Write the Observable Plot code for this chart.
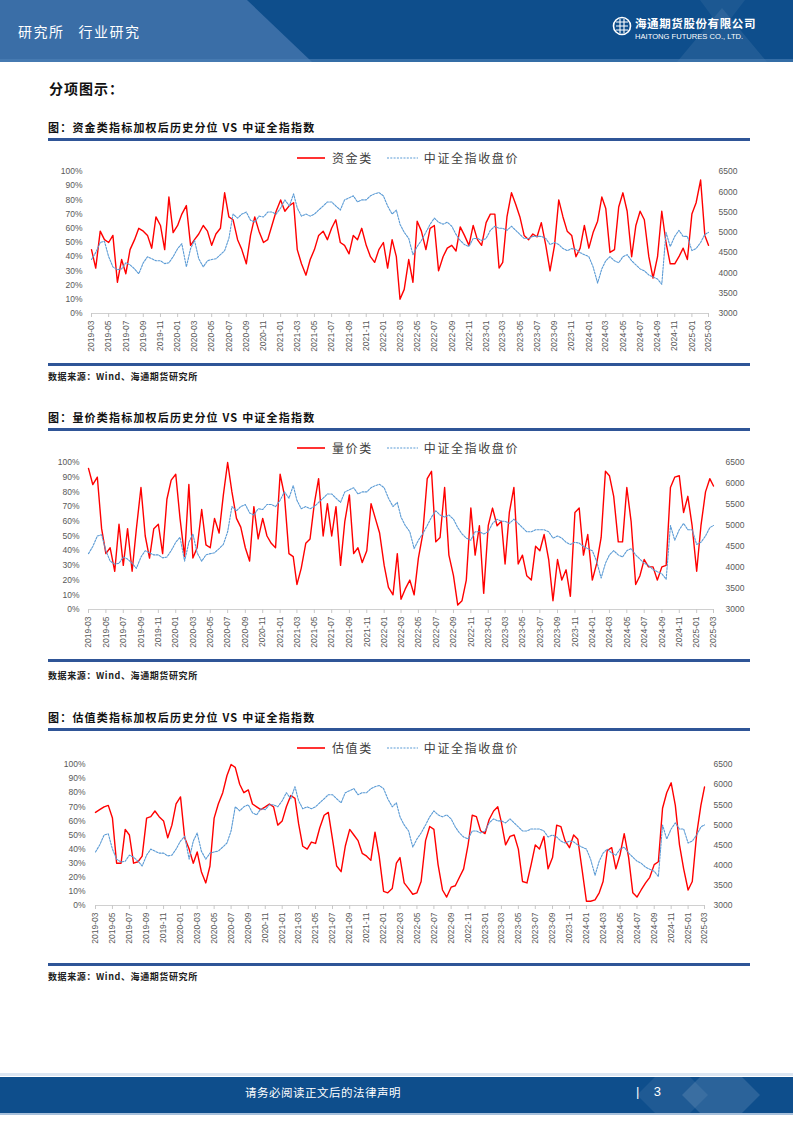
<!DOCTYPE html>
<html><head><meta charset="utf-8">
<script src="https://cdn.jsdelivr.net/npm/d3@7"></script>
<script src="https://cdn.jsdelivr.net/npm/@observablehq/plot@0.6"></script>
<style>
body{margin:0;background:#fff;}
#page{position:relative;width:793px;height:1122px;overflow:hidden;font-family:"Noto Sans CJK SC",sans-serif;}
.abs{position:absolute;}
.title{font-size:11px;font-weight:bold;color:#111;letter-spacing:1.2px;white-space:nowrap;line-height:14px;}
.rule{left:48px;width:702px;background:#2f5597;}
.src{font-size:9px;font-weight:bold;color:#222;letter-spacing:0.6px;white-space:nowrap;line-height:12px;}
.leg{font-size:12px;color:#404040;letter-spacing:1.6px;white-space:nowrap;line-height:14px;display:flex;align-items:center;}
.chart{left:0;width:793px;}
</style></head><body><div id="page">
<svg class="abs" style="left:0;top:0" width="793" height="64">
  <rect x="0" y="0" width="793" height="62" fill="#0e4e8c"/>
  <polygon points="0,0 247,0 312,62 0,62" fill="#3a6ea7"/>
  <polygon points="722,8 767,62 677,62" fill="#ffffff" opacity="0.08"/>
  <polygon points="700,0 745,0 722,30" fill="#ffffff" opacity="0.06"/>
  <rect x="0" y="59" width="793" height="3" fill="#4f82b8" opacity="0.6"/>
  <circle cx="622" cy="26" r="8.5" fill="none" stroke="#fff" stroke-width="1.6"/>
  <path d="M616,22 H628 M616,26 H628 M616,30 H628 M620,19 V33 M624,19 V33" stroke="#fff" stroke-width="1.1" fill="none"/>
</svg>
<div class="abs" style="left:18px;top:21px;color:#fff;font-size:14px;letter-spacing:1.5px;white-space:nowrap;">研究所&nbsp;&nbsp;&nbsp;行业研究</div>
<div class="abs" style="left:635px;top:17px;color:#fff;font-size:11.5px;font-weight:bold;letter-spacing:0.6px;white-space:nowrap;line-height:13px;">海通期货股份有限公司</div>
<div class="abs" style="left:635px;top:32px;color:#fff;font-size:7.6px;font-family:'Liberation Sans',Arial,sans-serif;white-space:nowrap;line-height:9px;">HAITONG FUTURES CO., LTD.</div>
<div class="abs" style="left:49px;top:78px;font-size:14px;font-weight:bold;color:#111;letter-spacing:1px;">分项图示：</div>

<div class="abs title" style="left:48px;top:120px;">图：资金类指标加权后历史分位 VS 中证全指指数</div>
<div class="abs rule" style="top:138px;height:3px;"></div>
<div id="leg1" class="abs leg" style="left:297px;top:151px;"></div>
<div id="c1" class="abs chart" style="top:160px;"></div>
<div class="abs rule" style="top:363px;height:2.5px;"></div>
<div class="abs src" style="left:48px;top:371px;">数据来源：Wind、海通期货研究所</div>

<div class="abs title" style="left:48px;top:410px;">图：量价类指标加权后历史分位 VS 中证全指指数</div>
<div class="abs rule" style="top:428px;height:3px;"></div>
<div id="leg2" class="abs leg" style="left:297px;top:441px;"></div>
<div id="c2" class="abs chart" style="top:452px;"></div>
<div class="abs rule" style="top:659px;height:2.5px;"></div>
<div class="abs src" style="left:48px;top:670px;">数据来源：Wind、海通期货研究所</div>

<div class="abs title" style="left:48px;top:710px;">图：估值类指标加权后历史分位 VS 中证全指指数</div>
<div class="abs rule" style="top:728px;height:3px;"></div>
<div id="leg3" class="abs leg" style="left:297px;top:741px;"></div>
<div id="c3" class="abs chart" style="top:754px;"></div>
<div class="abs rule" style="top:963px;height:2.5px;"></div>
<div class="abs src" style="left:48px;top:971px;">数据来源：Wind、海通期货研究所</div>

<svg class="abs" style="left:0;top:1073px" width="793" height="44">
  <rect x="0" y="0" width="793" height="3" fill="#dce6f2"/>
  <rect x="0" y="4" width="793" height="36" fill="#0e4e8c"/>
  <polygon points="655,4 690,4 708,22 690,40 655,40 637,22" fill="#ffffff" opacity="0.07"/>
  <polygon points="700,4 742,4 760,22 742,40 700,40 682,22" fill="#ffffff" opacity="0.12"/>
  <rect x="0" y="40" width="793" height="2" fill="#4f82b8" opacity="0.5"/>
</svg>
<div class="abs" style="left:245px;top:1085px;color:#fff;font-size:11.5px;letter-spacing:0.5px;white-space:nowrap;line-height:14px;">请务必阅读正文后的法律声明</div>
<div class="abs" style="left:636px;top:1084px;color:#fff;font-size:13px;font-family:'Liberation Sans',Arial,sans-serif;white-space:nowrap;line-height:16px;">|&nbsp;&nbsp;&nbsp;&nbsp;3</div>
</div>
<script>
// ---- data (semi-monthly readings: 1st and 16th of each month, 2019-03-01 .. 2025-03-01) ----
const indexName = "中证全指收盘价";
const indexClose = [
  4330,4500,4750,4780,4400,4150,4080,4100,4250,4200,4100,3980,4250,4400,4350,4300,4300,4230,4250,4400,
  4600,4720,4150,4600,4800,4350,4150,4300,4330,4350,4450,4550,4850,5450,5350,5450,5500,5300,5250,5400,5380,5500,5500,5450,
  5600,5800,5650,5950,5600,5400,5450,5400,5450,5550,5650,5750,5750,5650,5550,5800,5850,5900,5750,5800,5800,5900,5950,5980,
  5900,5650,5450,5550,5200,5000,4850,4450,4650,4800,5000,5200,5350,5250,5200,5250,5150,4950,4800,4700,4650,4850,4850,4800,
  4850,5050,5150,5100,5100,5050,5150,5050,4950,4850,4850,4900,4900,4900,4850,4700,4750,4700,4600,4550,4600,4580,4500,4450,
  4400,4150,3750,4100,4300,4400,4300,4250,4400,4450,4300,4200,4100,4050,3950,3900,3850,3720,5000,4650,4900,5050,4900,4900,
  4550,4600,4750,4950,5000
];
const fundName = "资金类";
const fundPct = [
  45,32,58,52,50,55,22,38,28,45,52,60,58,55,46,68,62,45,82,57,
  62,70,76,48,52,56,62,58,48,56,60,85,68,66,52,45,35,55,68,58,50,52,62,72,
  80,72,76,78,45,35,27,38,45,55,58,52,60,66,50,48,42,55,52,60,48,40,36,45,
  50,32,52,40,10,17,38,22,65,58,45,60,62,30,40,46,48,44,61,55,48,62,52,48,
  64,70,70,32,36,68,85,77,68,55,52,56,54,64,48,30,48,80,68,58,55,40,46,62,
  46,57,65,82,74,43,45,75,85,72,40,62,72,66,40,25,40,72,50,35,35,40,46,38,
  70,78,94,55,48
];
const volPriceName = "量价类";
const volPricePct = [
  96,85,90,55,38,42,26,58,30,55,26,55,83,50,35,55,58,38,75,88,
  92,62,36,85,35,42,68,44,42,62,52,78,100,80,62,56,42,33,70,48,62,50,45,42,
  92,78,38,36,17,28,45,48,72,89,50,72,50,70,30,60,78,38,42,32,40,72,62,52,
  30,15,10,38,7,14,20,10,35,51,89,94,46,49,83,37,23,3,6,20,69,37,57,11,
  57,69,57,60,31,66,83,31,37,23,20,43,40,51,34,6,34,20,27,9,66,69,37,51,
  20,31,49,94,91,77,46,46,83,60,17,23,34,29,29,20,29,30,83,90,91,66,77,57,
  26,57,80,89,84
];
const valuationName = "估值类";
const valuationPct = [
  66,68,70,71,62,30,30,54,50,30,31,35,62,63,67,63,60,48,57,72,
  77,48,40,30,38,24,16,28,62,72,80,92,100,98,86,80,82,72,70,68,70,72,70,57,
  60,70,78,76,58,42,40,45,44,55,64,66,47,28,24,42,54,50,46,37,35,32,52,35,
  10,9,12,30,34,16,12,8,9,17,46,56,54,29,11,6,13,14,20,26,43,64,63,53,
  51,61,67,70,59,43,49,50,40,17,16,29,43,40,49,26,34,57,56,46,41,50,47,26,
  3,3,4,9,17,39,41,26,36,51,34,9,6,11,16,20,29,31,69,80,87,71,43,26,
  11,17,51,71,84
];
const pctTicks = [0,10,20,30,40,50,60,70,80,90,100];
const indexTicks = [3000,3500,4000,4500,5000,5500,6000,6500];
const xTickLabels = [
  "2019-03","2019-05","2019-07","2019-09","2019-11",
  "2020-01","2020-03","2020-05","2020-07","2020-09","2020-11",
  "2021-01","2021-03","2021-05","2021-07","2021-09","2021-11",
  "2022-01","2022-03","2022-05","2022-07","2022-09","2022-11",
  "2023-01","2023-03","2023-05","2023-07","2023-09","2023-11",
  "2024-01","2024-03","2024-05","2024-07","2024-09","2024-11",
  "2025-01","2025-03"
];

// ---- build ----
const dates = indexClose.map((_, i) => new Date(Date.UTC(2019, 2 + Math.floor(i / 2), i % 2 ? 16 : 1)));
const parseM = d3.utcParse("%Y-%m");
const xTickDates = xTickLabels.map(parseM);
const IDX_MIN = 3000, IDX_MAX = 6500;
const idxToPct = v => (v - IDX_MIN) / (IDX_MAX - IDX_MIN) * 100;
const pctToIdx = p => Math.round(IDX_MIN + p / 100 * (IDX_MAX - IDX_MIN));

function legend(el, name) {
  el.innerHTML =
    `<svg width="30" height="6" style="margin-right:5px"><line x1="0" y1="3" x2="28" y2="3" stroke="#ff0000" stroke-width="1.6"/></svg>` +
    `<span>${name}</span>` +
    `<svg width="33" height="6" style="margin-left:14px;margin-right:4px"><line x1="0" y1="3" x2="31" y2="3" stroke="#5b9bd5" stroke-width="1.2" stroke-dasharray="2,1.3"/></svg>` +
    `<span>${indexName}</span>`;
}

function makeChart(red, m) {
  const rows = dates.map((d, i) => ({date: d, red: red[i], idx: indexClose[i]}));
  return Plot.plot({
    width: 793, height: 200,
    marginTop: m.top, marginBottom: m.bottom, marginLeft: m.left, marginRight: m.right,
    style: {fontFamily: "'Liberation Sans', Arial, sans-serif", fontSize: "8.5px", color: "#595959", background: "transparent", overflow: "visible"},
    x: {type: "utc", domain: [dates[0], dates[dates.length - 1]]},
    y: {domain: [0, 100]},
    marks: [
      Plot.ruleY([0], {stroke: "#d0d0d0"}),
      Plot.axisY({anchor: "left", ticks: pctTicks, tickFormat: d => d + "%", tickSize: 0, tickPadding: m.padL, label: null, fill: "#595959"}),
      Plot.axisY({anchor: "right", ticks: indexTicks.map(idxToPct), tickFormat: p => String(pctToIdx(p)), tickSize: 0, tickPadding: m.padR, label: null, fill: "#595959"}),
      Plot.axisX({ticks: xTickDates, tickFormat: d3.utcFormat("%Y-%m"), tickRotate: -90, tickSize: 4, tickPadding: 3, label: null, stroke: "#c8c8c8", fill: "#595959"}),
      Plot.line(rows, {x: "date", y: "red", stroke: "#ff0000", strokeWidth: 1.4}),
      Plot.line(rows, {x: "date", y: d => idxToPct(d.idx), stroke: "#5b9bd5", strokeWidth: 1.1, strokeDasharray: "2,1.3"})
    ]
  });
}

legend(document.getElementById("leg1"), fundName);
legend(document.getElementById("leg2"), volPriceName);
legend(document.getElementById("leg3"), valuationName);

document.getElementById("c1").append(makeChart(fundPct, {top: 11, bottom: 47, left: 91, right: 85, padL: 9, padR: 10}));
document.getElementById("c2").append(makeChart(volPricePct, {top: 10, bottom: 43, left: 88, right: 80, padL: 9, padR: 12}));
document.getElementById("c3").append(makeChart(valuationPct, {top: 10, bottom: 49, left: 95, right: 89, padL: 10, padR: 9}));
</script>
</body></html>
